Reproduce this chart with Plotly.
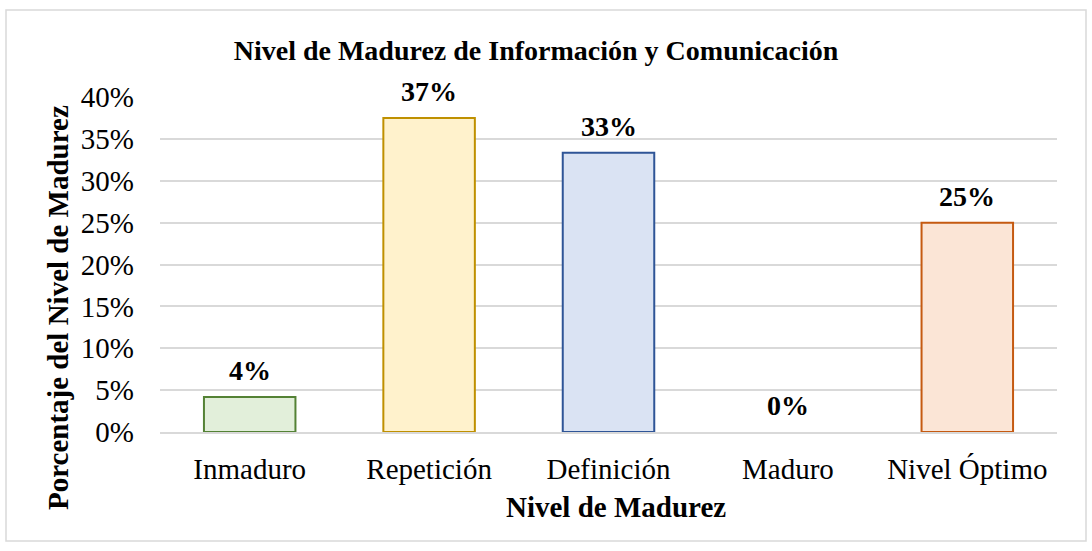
import plotly.graph_objects as go

# data
niveles = ["Inmaduro", "Repetición", "Definición", "Maduro", "Nivel Óptimo"]
porcentajes = [4.17, 37.5, 33.33, 0.0, 25.0]
etiquetas = ["4%", "37%", "33%", "0%", "25%"]

relleno = ["#E2EFDA", "#FFF2CC", "#DAE3F3", "#EDEDED", "#FBE5D6"]
borde = ["#548235", "#BF9000", "#2F5597", "#7F7F7F", "#C55A11"]
grosor = [2, 2, 2, 0, 2]

FONT = "Liberation Serif"

fig = go.Figure(go.Bar(
    x=niveles,
    y=porcentajes,
    marker=dict(color=relleno, line=dict(color=borde, width=grosor)),
    width=0.51,
    hoverinfo="skip",
))

# value labels above each bar
for n, v, t in zip(niveles, porcentajes, etiquetas):
    fig.add_annotation(x=n, y=v, text="<b>" + t + "</b>", showarrow=False,
                       xanchor="center", yanchor="bottom", yshift=9,
                       font=dict(family=FONT, size=28, color="black"))

# axis titles (placed like the original, not centred on the plot)
fig.add_annotation(text="<b>Nivel de Madurez</b>", xref="paper", yref="paper",
                   x=(616 - 160) / 897, y=(432 - 507) / 335, showarrow=False,
                   xanchor="center", yanchor="middle",
                   font=dict(family=FONT, size=29, color="black"))

fig.add_annotation(text="<b>Porcentaje del Nivel de Madurez</b>", xref="paper", yref="paper",
                   x=(58 - 160) / 897, y=(432 - 308) / 335, textangle=-90, showarrow=False,
                   xanchor="center", yanchor="middle",
                   font=dict(family=FONT, size=29, color="black"))

# outer chart border
fig.add_shape(type="rect", xref="paper", yref="paper",
              x0=(6 - 160) / 897, x1=(1086 - 160) / 897,
              y0=(432 - 541) / 335, y1=(432 - 10) / 335,
              line=dict(color="#D9D9D9", width=1.5), layer="below")

fig.update_layout(
    width=1092, height=551,
    margin=dict(l=160, r=35, t=97, b=119),
    paper_bgcolor="white", plot_bgcolor="white",
    title=dict(text="<b>Nivel de Madurez de Información y Comunicación</b>",
               x=536 / 1092, xanchor="center", y=1 - 50 / 551, yanchor="middle",
               font=dict(family=FONT, size=28, color="black")),
    font=dict(family=FONT, size=29, color="black"),
    showlegend=False,
    xaxis=dict(showgrid=False, showline=True, linecolor="#D9D9D9", linewidth=1.5,
               ticks="", tickfont=dict(size=29), ticklabelstandoff=10),
    yaxis=dict(range=[0, 40], dtick=5, ticksuffix="%", showgrid=True,
               gridcolor="#D9D9D9", gridwidth=1.5, zeroline=False,
               tickfont=dict(size=29), ticklabelstandoff=25),
)

fig.write_html("out.html", config={"displayModeBar": False},
               post_script="document.body.style.margin='0px';")
